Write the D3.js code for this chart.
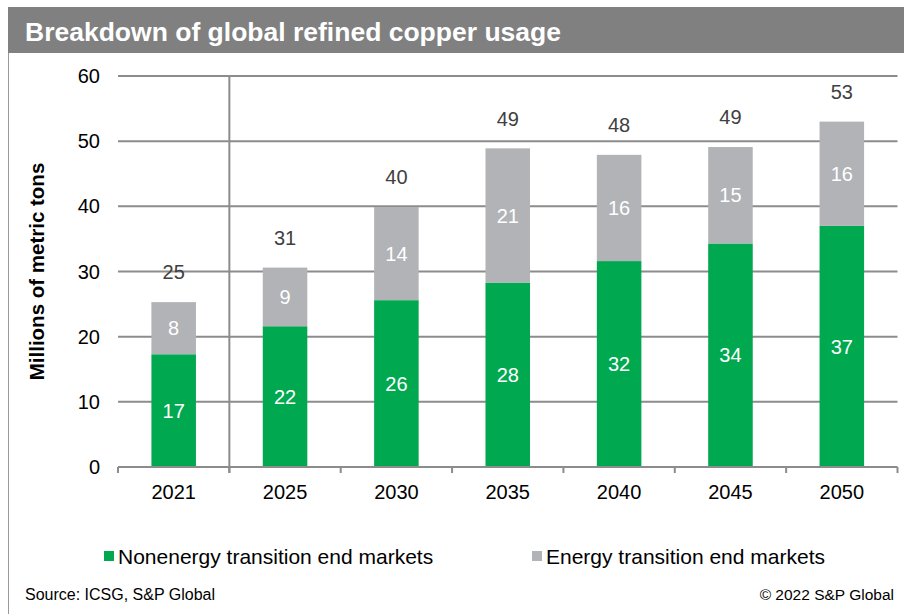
<!DOCTYPE html>
<html>
<head>
<meta charset="utf-8">
<script src="https://cdn.jsdelivr.net/npm/d3@7"></script>
<style>
  html, body { margin: 0; padding: 0; background: #fff; }
  svg { display: block; font-family: "Liberation Sans", Arial, sans-serif; }
</style>
</head>
<body>
<svg id="chart" width="904" height="614"></svg>
<script>
// ---- Data ----
const years = ["2021", "2025", "2030", "2035", "2040", "2045", "2050"];
const nonenergy = [17.3, 21.6, 25.6, 28.3, 31.6, 34.3, 37.0];
const energy = [8.0, 9.0, 14.3, 20.6, 16.3, 14.8, 16.0];
const yTicks = [0, 10, 20, 30, 40, 50, 60];
const seriesNames = ["Nonenergy transition end markets", "Energy transition end markets"];
const titleText = "Breakdown of global refined copper usage";
const yLabel = "Millions of metric tons";
const sourceText = "Source: ICSG, S&P Global";
const copyrightText = "\u00A9 2022 S&P Global";

// ---- Styles ----
const GREEN = "#00a94f";
const GRAY = "#b1b3b6";
const GRID = "#8c8c8c";

const svg = d3.select("#chart");

// Title bar
svg.append("rect").attr("x", 8).attr("y", 7).attr("width", 896).attr("height", 46).attr("fill", "#808080");
svg.append("text").attr("x", 25).attr("y", 41).attr("fill", "#fff")
  .attr("font-size", 26.5).attr("font-weight", "bold").text(titleText);
// Left frame line
svg.append("line").attr("x1", 8.5).attr("x2", 8.5).attr("y1", 53).attr("y2", 614)
  .attr("stroke", "#9a9a9a").attr("stroke-width", 1);

// Scales
const x = d3.scaleBand().domain(years).range([118, 897.5]).padding(0);
const y = d3.scaleLinear().domain([0, 60]).range([467, 76]);
const barW = x.bandwidth() * 0.4;

// Gridlines
svg.append("g").selectAll("line").data(yTicks.filter(d => d > 0)).join("line")
  .attr("x1", 118).attr("x2", 897.5)
  .attr("y1", d => y(d)).attr("y2", d => y(d))
  .attr("stroke", GRID).attr("stroke-width", 2);

// Divider between 2021 and 2025
svg.append("line").attr("x1", x("2025")).attr("x2", x("2025"))
  .attr("y1", y(60)).attr("y2", y(0) + 6)
  .attr("stroke", GRID).attr("stroke-width", 2);

// Y tick labels
svg.append("g").selectAll("text").data(yTicks).join("text")
  .attr("x", 100).attr("y", d => y(d)).attr("dy", "0.35em")
  .attr("text-anchor", "end").attr("font-size", 20).attr("fill", "#000")
  .text(d => d);

// Y axis title
svg.append("text").attr("transform", `translate(44,${(y(0) + y(60)) / 2}) rotate(-90)`)
  .attr("text-anchor", "middle").attr("font-size", 20.5).attr("font-weight", "bold")
  .attr("fill", "#000").text(yLabel);

// Stacked data
const rows = years.map((yr, i) => ({ year: yr, non: nonenergy[i], en: energy[i] }));
const stack = d3.stack().keys(["non", "en"])(rows);
const colors = { non: GREEN, en: GRAY };

const layers = svg.append("g").selectAll("g").data(stack).join("g")
  .attr("fill", d => colors[d.key]);
layers.selectAll("rect").data(d => d).join("rect")
  .attr("x", d => x(d.data.year) + (x.bandwidth() - barW) / 2)
  .attr("width", barW)
  .attr("y", d => y(d[1]))
  .attr("height", d => y(d[0]) - y(d[1]));

// Segment labels
layers.selectAll("text").data(d => d).join("text")
  .attr("x", d => x(d.data.year) + x.bandwidth() / 2)
  .attr("y", d => (y(d[0]) + y(d[1])) / 2).attr("dy", "0.36em")
  .attr("text-anchor", "middle").attr("font-size", 20).attr("fill", "#fff")
  .text(d => Math.round(d[1] - d[0]));

// Total labels
svg.append("g").selectAll("text").data(rows).join("text")
  .attr("x", d => x(d.year) + x.bandwidth() / 2)
  .attr("y", d => y(d.non + d.en) - 30).attr("dy", "0.36em")
  .attr("text-anchor", "middle").attr("font-size", 20).attr("fill", "#404040")
  .text(d => Math.round(d.non + d.en));

// X axis line and ticks
svg.append("line").attr("x1", 118).attr("x2", 897.5).attr("y1", y(0)).attr("y2", y(0))
  .attr("stroke", GRID).attr("stroke-width", 2);
const bounds = years.map(d => x(d)).concat([x.range()[1]]);
svg.append("g").selectAll("line").data(bounds).join("line")
  .attr("x1", d => d).attr("x2", d => d).attr("y1", y(0)).attr("y2", y(0) + 6)
  .attr("stroke", GRID).attr("stroke-width", 2);
svg.append("g").selectAll("text").data(years).join("text")
  .attr("x", d => x(d) + x.bandwidth() / 2).attr("y", 492).attr("dy", "0.36em")
  .attr("text-anchor", "middle").attr("font-size", 20).attr("fill", "#000")
  .text(d => d);

// Legend
const legend = [
  { name: seriesNames[0], color: GREEN, x: 104 },
  { name: seriesNames[1], color: GRAY, x: 532 }
];
const lg = svg.append("g").selectAll("g").data(legend).join("g");
lg.append("rect").attr("x", d => d.x).attr("y", 551).attr("width", 10).attr("height", 10)
  .attr("fill", d => d.color);
lg.append("text").attr("x", d => d.x + 14).attr("y", 556).attr("dy", "0.36em")
  .attr("font-size", 21).attr("fill", "#000").text(d => d.name);

// Footer
svg.append("text").attr("x", 25).attr("y", 594).attr("dy", "0.36em")
  .attr("font-size", 16).attr("fill", "#000").text(sourceText);
svg.append("text").attr("x", 894).attr("y", 594).attr("dy", "0.36em")
  .attr("text-anchor", "end").attr("font-size", 15.5).attr("fill", "#000").text(copyrightText);
</script>
</body>
</html>
